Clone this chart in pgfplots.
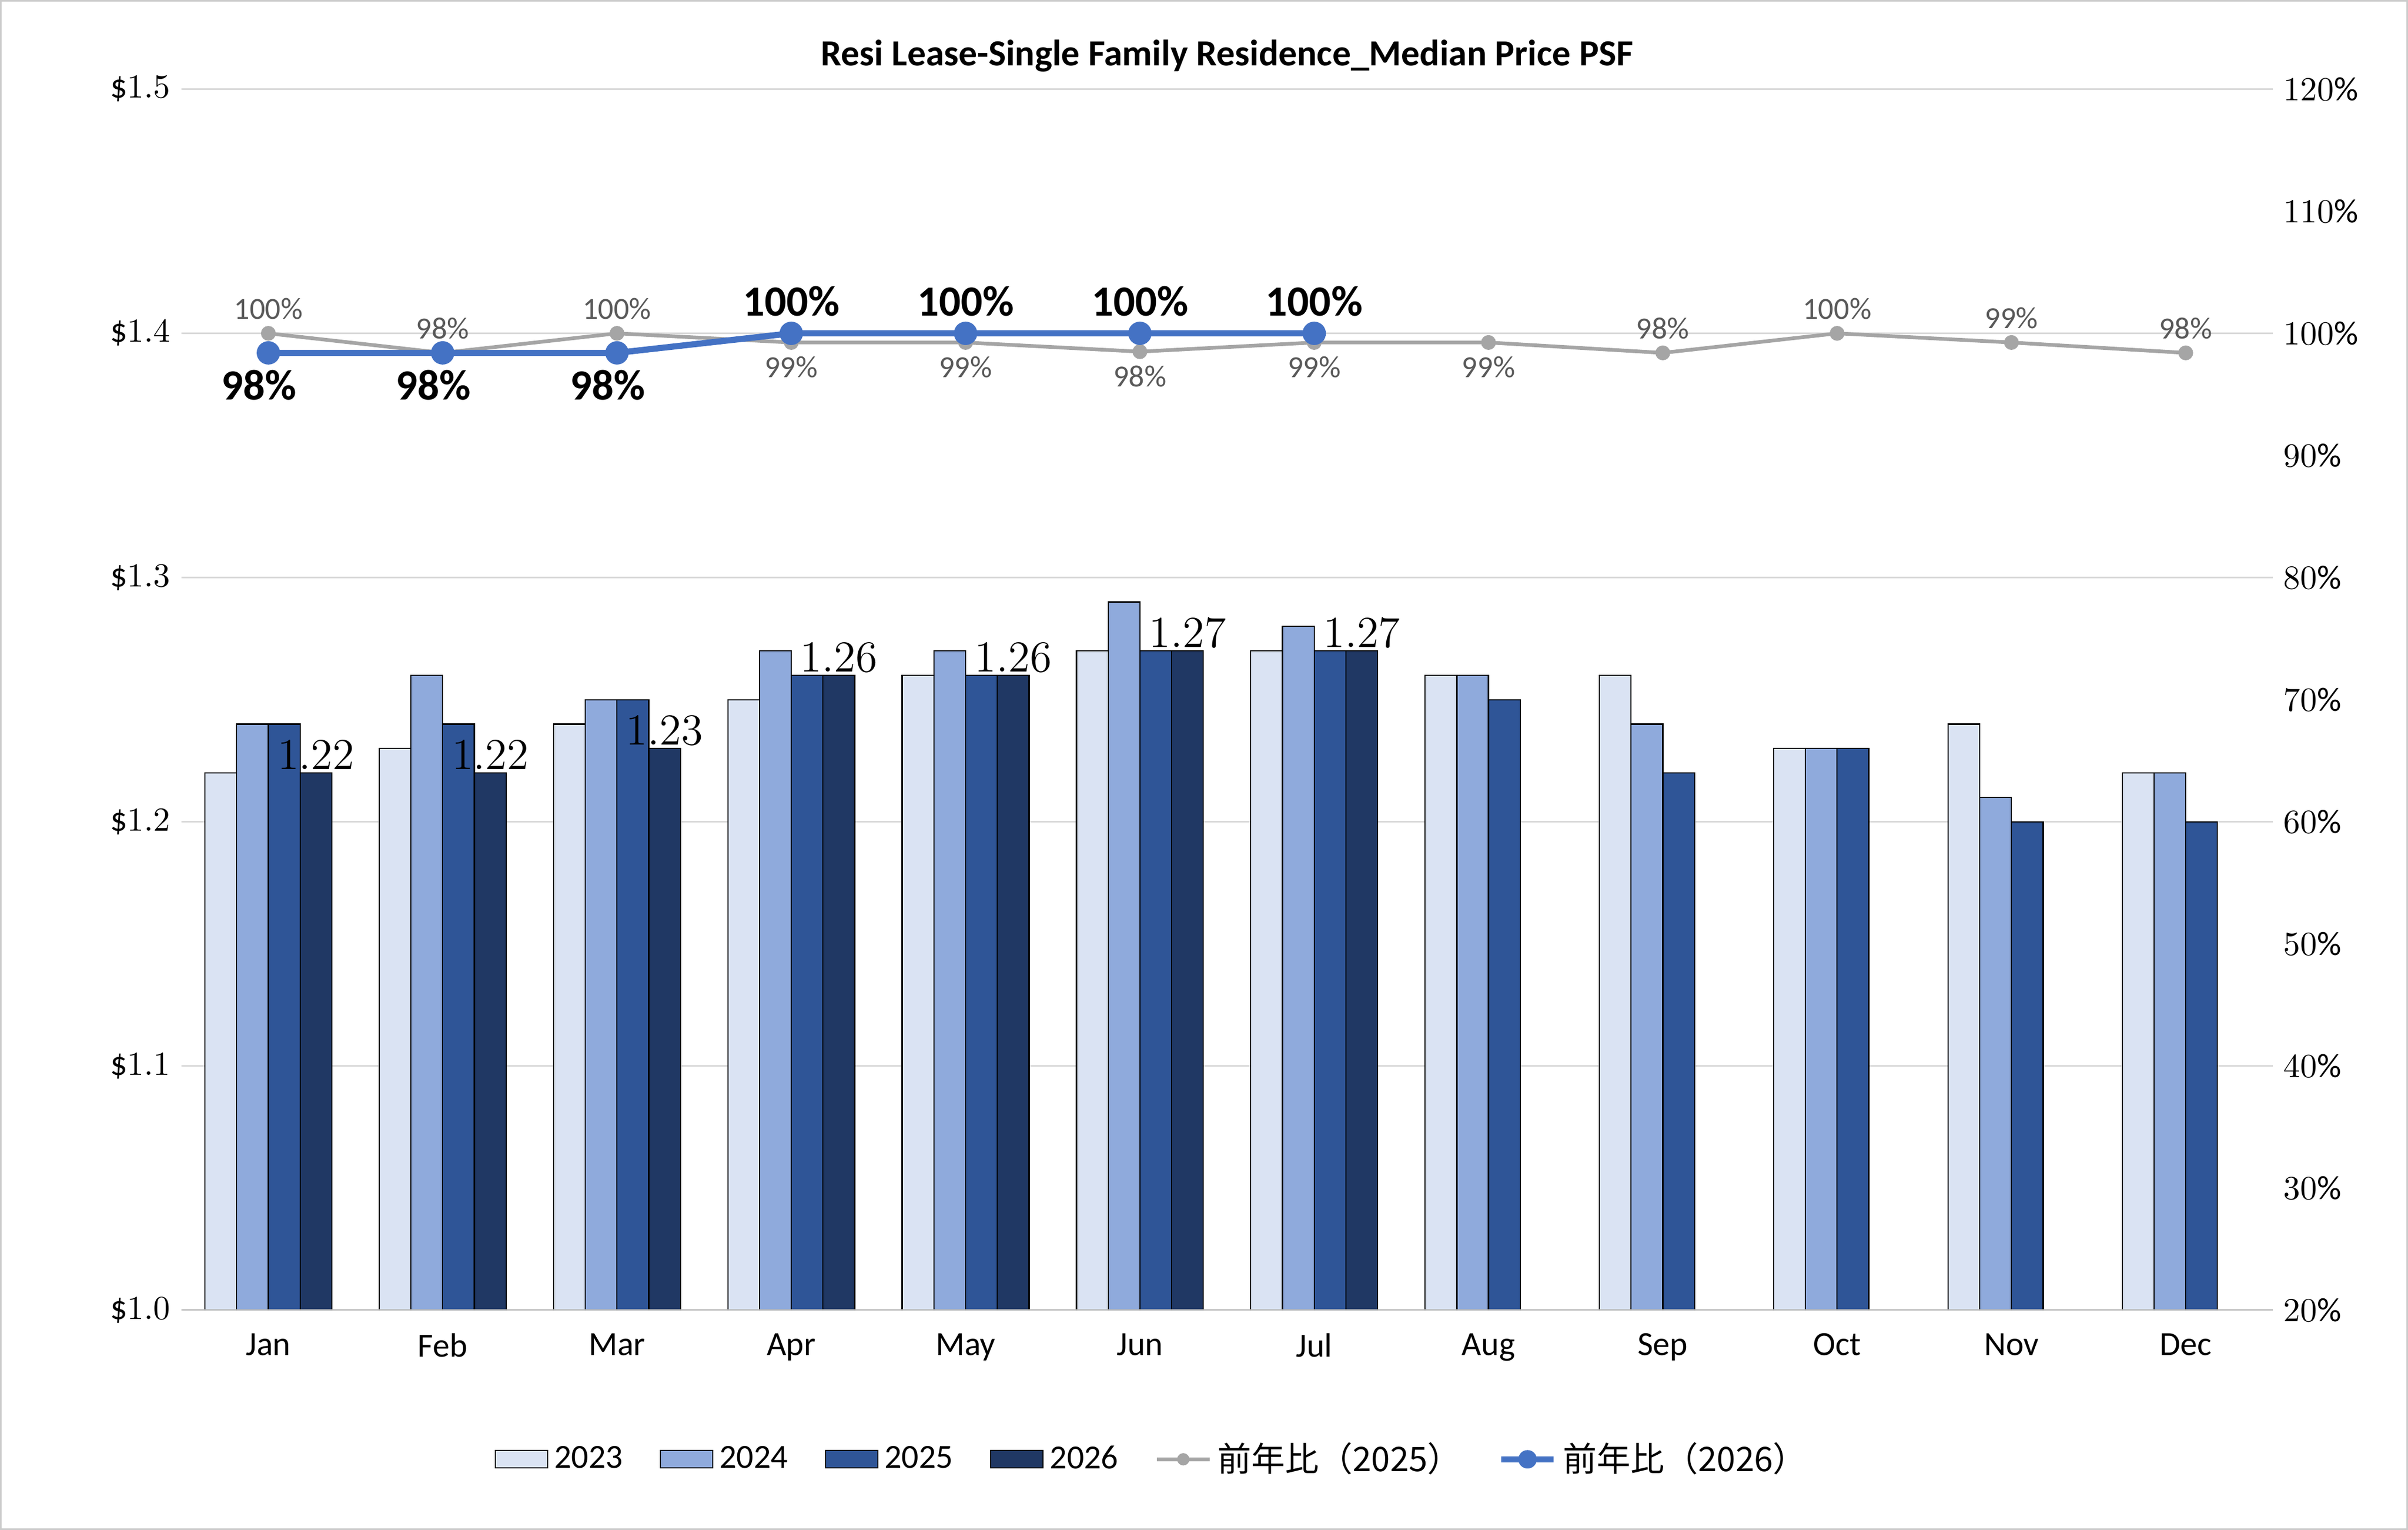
\documentclass[border=0pt]{standalone}
\usepackage{pgfplots}
\pgfplotsset{compat=1.18}
\usepackage{fontspec}
\setmainfont{Carlito}
\newfontfamily\cjk{Noto Sans CJK JP}
\definecolor{c23}{HTML}{DAE3F3}
\definecolor{c24}{HTML}{8FAADC}
\definecolor{c25}{HTML}{2F5597}
\definecolor{c26}{HTML}{203864}
\definecolor{gl}{HTML}{A5A5A5}
\definecolor{bl}{HTML}{4472C4}
\definecolor{tx}{HTML}{595959}
\begin{document}
\begin{tikzpicture}
\useasboundingbox (-59pt,-71.5pt) rectangle (725pt,426.5pt);
\draw[gray!40,line width=0.6pt] (-58.7pt,-71.2pt) rectangle (724.7pt,426.2pt);
\pgfplotsset{every axis/.style={scale only axis,width=681pt,height=397.5pt,xmin=-0.5,xmax=11.5}}
\begin{axis}[
  ymin=1.0,ymax=1.5,ytick={1.0,1.1,1.2,1.3,1.4,1.5},
  yticklabel={\$\pgfmathprintnumber[fixed,fixed zerofill,precision=1]{\tick}},
  yticklabel style={font=\fontsize{11}{13}\selectfont,text=black},
  ymajorgrids, grid style={gray!30,line width=0.5pt},
  axis line style={draw=none}, major tick length=0pt,
  xtick={0,...,11}, xticklabels={Jan,Feb,Mar,Apr,May,Jun,Jul,Aug,Sep,Oct,Nov,Dec},
  xticklabel style={font=\fontsize{11}{13}\selectfont,yshift=-4pt},
  ybar=0pt, bar width=0.182,
  title={\bfseries Resi Lease-Single Family Residence\_Median Price PSF},
  title style={font=\fontsize{12}{14}\selectfont,yshift=-4pt},
  every axis plot/.append style={draw=black,line width=0.4pt},
]
\addplot[fill=c23] coordinates {(0,1.22)(1,1.23)(2,1.24)(3,1.25)(4,1.26)(5,1.27)(6,1.27)(7,1.26)(8,1.26)(9,1.23)(10,1.24)(11,1.22)};
\addplot[fill=c24] coordinates {(0,1.24)(1,1.26)(2,1.25)(3,1.27)(4,1.27)(5,1.29)(6,1.28)(7,1.26)(8,1.24)(9,1.23)(10,1.21)(11,1.22)};
\addplot[fill=c25] coordinates {(0,1.24)(1,1.24)(2,1.25)(3,1.26)(4,1.26)(5,1.27)(6,1.27)(7,1.25)(8,1.22)(9,1.23)(10,1.20)(11,1.20)};
\addplot[fill=c26,nodes near coords,
  nodes near coords style={font=\fontsize{14}{16}\selectfont\bfseries,text=black,/pgf/number format/fixed,/pgf/number format/precision=2,/pgf/number format/fixed zerofill,inner sep=1pt}]
  coordinates {(0,1.22)(1,1.22)(2,1.23)(3,1.26)(4,1.26)(5,1.27)(6,1.27)(7,nan)(8,nan)(9,nan)(10,nan)(11,nan)};
\draw[gray!55,line width=0.6pt] (axis cs:-0.5,1.0) -- (axis cs:11.5,1.0);
\end{axis}
\begin{axis}[
  ymin=20,ymax=120,ytick={20,30,...,120},axis y line*=right,
  yticklabel={\pgfmathprintnumber{\tick}\%},
  yticklabel style={font=\fontsize{11}{13}\selectfont,text=black},
  axis line style={draw=none}, major tick length=0pt,
  xtick=\empty,
  legend style={at={(0.465,-0.122)},anchor=center,draw=none,legend columns=6,
    font=\fontsize{11}{13}\selectfont,/tikz/every even column/.append style={column sep=10pt}},
  legend image code/.code={},
]
\addlegendimage{area legend,fill=c23,draw=black,line width=0.4pt}
\addlegendentry{2023}
\addlegendimage{area legend,fill=c24,draw=black,line width=0.4pt}
\addlegendentry{2024}
\addlegendimage{area legend,fill=c25,draw=black,line width=0.4pt}
\addlegendentry{2025}
\addlegendimage{area legend,fill=c26,draw=black,line width=0.4pt}
\addlegendentry{2026}
\addlegendimage{legend image code/.code={\draw[gl,line width=1.2pt] (0pt,0pt)--(0.6cm,0pt); \fill[gl] (0.3cm,0pt) circle (1.8pt);}}
\addlegendentry{{\cjk 前年比（2025）}}
\addlegendimage{legend image code/.code={\draw[bl,line width=2pt] (0pt,0pt)--(0.6cm,0pt); \fill[bl] (0.3cm,0pt) circle (2.8pt);}}
\addlegendentry{{\cjk 前年比（2026）}}
\addplot[gl,line width=1.2pt,mark=*,mark size=1.8pt,forget plot] coordinates {(0,100)(1,98.4)(2,100)(3,99.25)(4,99.25)(5,98.5)(6,99.25)(7,99.25)(8,98.4)(9,100)(10,99.25)(11,98.4)};
\addplot[bl,line width=2pt,mark=*,mark size=2.8pt,forget plot] coordinates {(0,98.4)(1,98.4)(2,98.4)(3,100)(4,100)(5,100)(6,100)};
\addplot[draw=none,forget plot,point meta=explicit symbolic,nodes near coords,
  nodes near coords style={font=\fontsize{10}{12}\selectfont,text=tx,above,yshift=1pt}]
  coordinates {(0,100)[100\%](1,98.4)[98\%](2,100)[100\%](8,98.4)[98\%](9,100)[100\%](10,99.25)[99\%](11,98.4)[98\%]};
\addplot[draw=none,forget plot,point meta=explicit symbolic,nodes near coords,
  nodes near coords style={font=\fontsize{10}{12}\selectfont,text=tx,below,yshift=-1pt}]
  coordinates {(3,99.25)[99\%](4,99.25)[99\%](5,98.5)[98\%](6,99.25)[99\%](7,99.25)[99\%]};
\addplot[draw=none,forget plot,point meta=explicit symbolic,nodes near coords,
  nodes near coords style={font=\fontsize{14}{16}\selectfont\bfseries,text=black,below,yshift=-2pt,xshift=-3pt}]
  coordinates {(0,98.4)[98\%](1,98.4)[98\%](2,98.4)[98\%]};
\addplot[draw=none,forget plot,point meta=explicit symbolic,nodes near coords,
  nodes near coords style={font=\fontsize{14}{16}\selectfont\bfseries,text=black,above,yshift=2pt}]
  coordinates {(3,100)[100\%](4,100)[100\%](5,100)[100\%](6,100)[100\%]};
\end{axis}
\end{tikzpicture}
\end{document}
